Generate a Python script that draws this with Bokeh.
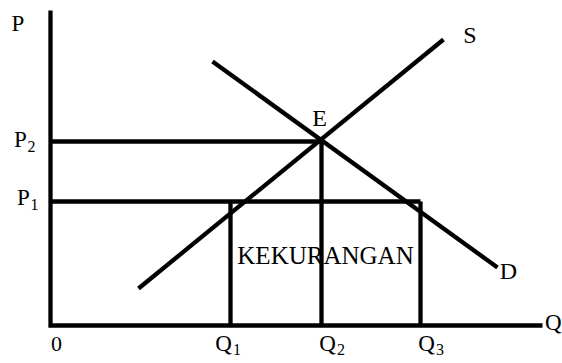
from bokeh.plotting import figure
from bokeh.models import Range1d
from bokeh.core.properties import value
from bokeh.embed import file_html
from bokeh.resources import INLINE

# ---- data (diagram units) ----
q_names = ["Q", "Q", "Q"]
q_subs = ["1", "2", "3"]
q_values = [180, 271, 370]          # Q1, Q2, Q3
p_names = ["P", "P"]
p_subs = ["1", "2"]
p_values = [124, 184]               # P1, P2
q_max = 492
p_max = 315
supply_q = [88, 393]
supply_p = [37, 286]
demand_q = [162, 447]
demand_p = [264, 58]
eq_q = 271
eq_p = 184
shortage_label = "KEKURANGAN"

# ---- layout ----
FONT = value("Liberation Serif")
LW = 4.3
q_label_dx = [-7, 6, 6]
p_label_x = [-27, -30]
p_label_dy = [4.5, 2.5]

p = figure(width=562, height=363, output_backend="svg", toolbar_location=None,
           x_range=Range1d(-50, 512), y_range=Range1d(-38, 325),
           min_border=0, min_border_left=0, min_border_right=0,
           min_border_top=0, min_border_bottom=0)
p.axis.visible = False
p.grid.visible = False
p.outline_line_color = None
p.background_fill_color = "white"
p.border_fill_color = "white"

# axes (corner)
p.line([0, 0, q_max], [p_max, 0, 0], line_color="black", line_width=LW, line_join="miter")

# supply and demand
p.line(supply_q, supply_p, line_color="black", line_width=LW)
p.line(demand_q, demand_p, line_color="black", line_width=LW)

# horizontal price lines: P2 to equilibrium, P1 to Q3
p.segment(x0=[0, 0], y0=[p_values[1], p_values[0]],
          x1=[eq_q, q_values[2]], y1=[p_values[1], p_values[0]],
          line_color="black", line_width=LW)
# vertical quantity lines
p.segment(x0=q_values, y0=[p_values[0], eq_p, p_values[0]],
          x1=q_values, y1=[0, 0, 0], line_color="black", line_width=LW)

def txt(xs, ys, texts, size, align="center", baseline="middle"):
    p.text(x=xs, y=ys, text=texts, text_font=FONT, text_font_size=value(size),
           text_color="black", text_align=align, text_baseline=baseline)

# Q tick labels with subscripts
qx = [q + d for q, d in zip(q_values, q_label_dx)]
txt(qx, [-18] * 3, q_names, "23px")
txt([x + 9.5 for x in qx], [-24] * 3, q_subs, "16px", align="left")
# P labels with subscripts
py = [v + d for v, d in zip(p_values, p_label_dy)]
txt(p_label_x, py, p_names, "23px")
txt([x + 7 for x in p_label_x], [y - 7 for y in py], p_subs, "16px", align="left")
# axis names
txt([-32.5], [p_max - 13], ["P"], "23px")
txt([511], [3.5], ["Q"], "23px", align="right")
txt([6], [-18], ["0"], "22px")
# curve labels
txt([supply_q[1] + 26.5], [supply_p[1] + 4.5], ["S"], "24px")
txt([demand_q[1] + 11], [demand_p[1] - 3.5], ["D"], "24px")
txt([eq_q - 2], [eq_p + 24], ["E"], "24px")
# shortage label
txt([(q_values[0] + q_values[2]) / 2], [70], [shortage_label], "25px")

open("out.html", "w").write(file_html(p, INLINE))
